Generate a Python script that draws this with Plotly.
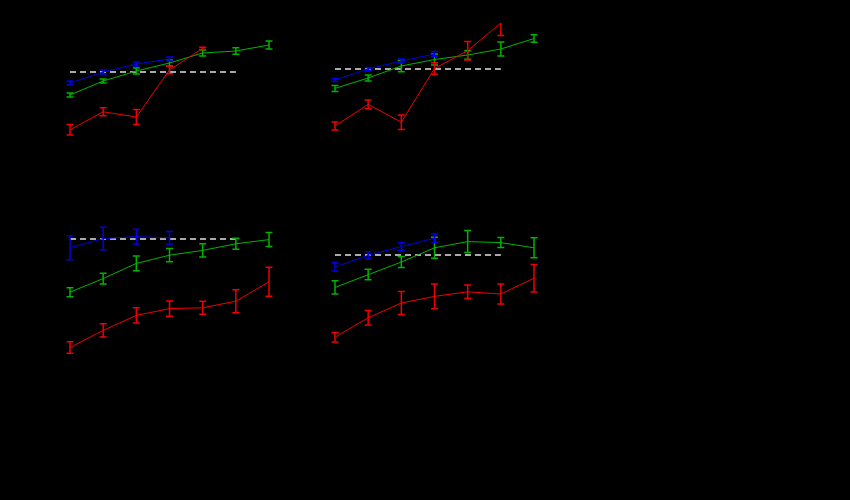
import plotly.graph_objects as go

x_all = [0, 1, 2, 3, 4, 5, 6]

# Panel A (top-left)
a_blue = [0.70, 0.755, 0.795, 0.82]
a_blue_err = [0.01, 0.01, 0.01, 0.01]
a_green = [0.64, 0.71, 0.76, 0.80, 0.85, 0.86, 0.89]
a_green_err = [0.01, 0.01, 0.015, 0.015, 0.015, 0.016, 0.02]
a_red = [0.466, 0.556, 0.53, 0.765, 0.873]
a_red_err = [0.026, 0.02, 0.038, 0.019, 0.006]
a_ref = 0.755

# Panel B (top-right)
b_blue = [0.715, 0.77, 0.81, 0.845]
b_blue_err = [0.008, 0.007, 0.01, 0.013]
b_green = [0.673, 0.725, 0.785, 0.8175, 0.84, 0.87, 0.9225]
b_green_err = [0.015, 0.015, 0.029, 0.0275, 0.021, 0.035, 0.019]
b_red = [0.485, 0.593, 0.504, 0.7725, 0.861, 1.0]
b_red_err = [0.02, 0.022, 0.036, 0.029, 0.046, 0.062]
b_ref = 0.77

# Panel C (bottom-left)
c_blue = [0.786, 0.8325, 0.8417, 0.836]
c_blue_err = [0.06, 0.056, 0.037, 0.031]
c_green = [0.564, 0.632, 0.708, 0.749, 0.773, 0.806, 0.827]
c_green_err = [0.0225, 0.027, 0.037, 0.033, 0.033, 0.0275, 0.035]
c_red = [0.2875, 0.373, 0.448, 0.482, 0.486, 0.519, 0.616]
c_red_err = [0.029, 0.033, 0.038, 0.038, 0.0325, 0.0575, 0.0725]
c_ref = 0.83

# Panel D (bottom-right)
d_blue = [0.691, 0.748, 0.7925, 0.834]
d_blue_err = [0.021, 0.018, 0.019, 0.021]
d_green = [0.588, 0.6525, 0.715, 0.786, 0.817, 0.812, 0.786]
d_green_err = [0.033, 0.026, 0.027, 0.0525, 0.055, 0.025, 0.05]
d_red = [0.339, 0.436, 0.51, 0.543, 0.566, 0.555, 0.634]
d_red_err = [0.024, 0.036, 0.057, 0.062, 0.034, 0.05, 0.069]
d_ref = 0.75

ref_x = [0, 5]

BLUE = "#0000e6"
GREEN = "#00b400"
RED = "#f00000"
GRAY = "#aaaaaa"

W, H = 850, 500
def px_dom(a, b, total):
    return [a / total, b / total]

# pixel layout of plot areas
xdom_left = px_dom(53.4, 285.6, W)
xdom_right = px_dom(318.4, 550.6, W)
ydom_top = [1 - 183 / H, 1 - 23 / H]
ydom_bot = [1 - 365 / H, 1 - 205 / H]

fig = go.Figure()

panels = [
    (a_blue, a_blue_err, a_green, a_green_err, a_red, a_red_err, a_ref),
    (b_blue, b_blue_err, b_green, b_green_err, b_red, b_red_err, b_ref),
    (c_blue, c_blue_err, c_green, c_green_err, c_red, c_red_err, c_ref),
    (d_blue, d_blue_err, d_green, d_green_err, d_red, d_red_err, d_ref),
]

for i, (bl, ble, gr, gre, rd, rde, ref) in enumerate(panels):
    ax = "" if i == 0 else str(i + 1)
    xa, ya = "x" + ax, "y" + ax
    fig.add_trace(go.Scatter(
        x=ref_x, y=[ref, ref], mode="lines", xaxis=xa, yaxis=ya,
        line=dict(color=GRAY, width=2, dash="6px,4px"), showlegend=False, hoverinfo="skip"))
    for vals, errs, col in ((gr, gre, GREEN), (rd, rde, RED), (bl, ble, BLUE)):
        fig.add_trace(go.Scatter(
            x=x_all[:len(vals)], y=vals, mode="lines", xaxis=xa, yaxis=ya,
            line=dict(color=col, width=1),
            error_y=dict(type="data", array=errs, visible=True, color=col,
                         thickness=1.5, width=3.5),
            showlegend=False))

axis_common = dict(showgrid=False, zeroline=False, showticklabels=False,
                   showline=False, ticks="")
layout_axes = {}
doms = [(xdom_left, ydom_top), (xdom_right, ydom_top),
        (xdom_left, ydom_bot), (xdom_right, ydom_bot)]
for i, (xd, yd) in enumerate(doms):
    suf = "" if i == 0 else str(i + 1)
    layout_axes["xaxis" + suf] = dict(domain=xd, range=[-0.5, 6.5],
                                      anchor="y" + suf, **axis_common)
    layout_axes["yaxis" + suf] = dict(domain=yd, range=[0.2, 1.0],
                                      anchor="x" + suf, **axis_common)

fig.update_layout(
    width=W, height=H,
    margin=dict(l=0, r=0, t=0, b=0),
    paper_bgcolor="black", plot_bgcolor="black",
    font=dict(color="black", family="DejaVu Sans"),
    showlegend=False,
    **layout_axes,
)

fig.write_html("out.html")
